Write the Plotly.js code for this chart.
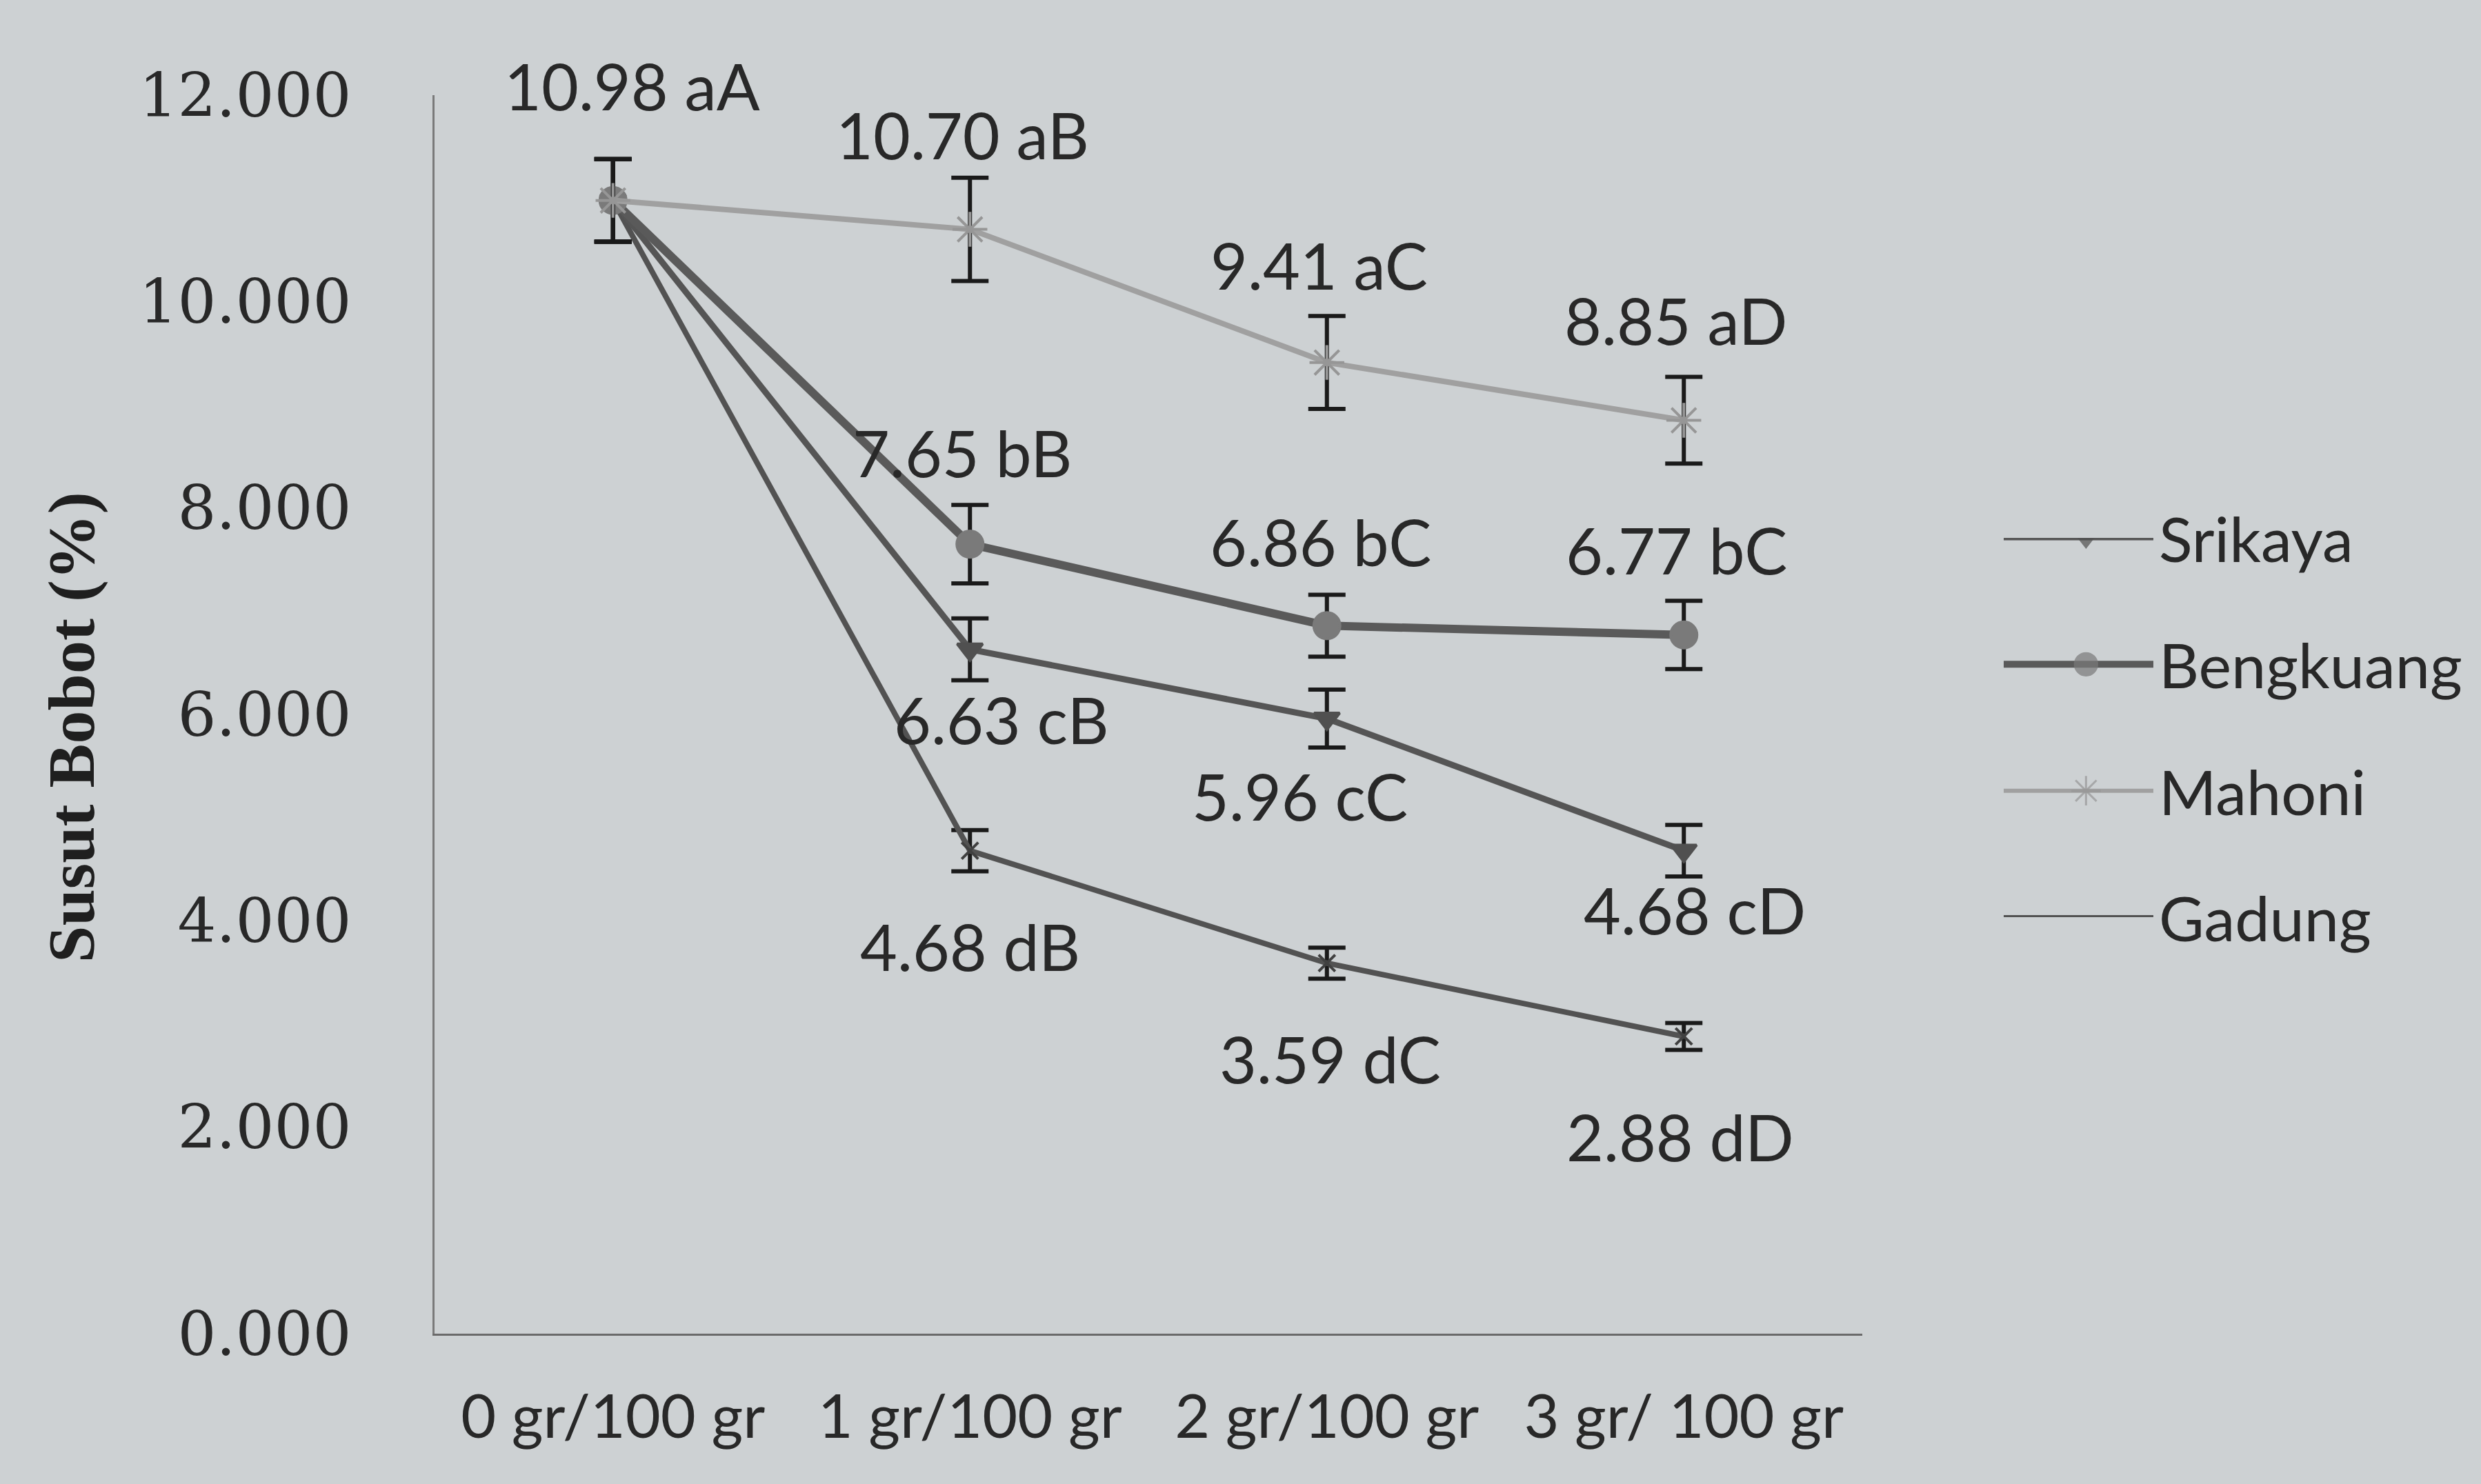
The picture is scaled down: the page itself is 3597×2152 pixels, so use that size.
<!DOCTYPE html>
<html>
<head>
<meta charset="utf-8">
<script src="https://cdn.plot.ly/plotly-3.0.1.min.js"></script>
<style>
  html, body { margin: 0; padding: 0; background: #cdd1d3; }
  #chart { width: 3597px; height: 2152px; }
</style>
</head>
<body>
<div id="chart"></div>
<script>
// ---- data ----
const categories = ['0 gr/100 gr', '1 gr/100 gr', '2 gr/100 gr', '3 gr/ 100 gr'];
const seriesNames = ['Srikaya', 'Bengkuang', 'Mahoni', 'Gadung'];

const srikaya   = [10.98, 6.63, 5.96, 4.68];
const bengkuang = [10.98, 7.65, 6.86, 6.77];
const mahoni    = [10.98, 10.70, 9.41, 8.85];
const gadung    = [10.98, 4.68, 3.59, 2.88];

const srikayaErr   = [0.40, 0.30, 0.28, 0.25];
const bengkuangErr = [0.40, 0.38, 0.30, 0.33];
const mahoniErr    = [0.40, 0.50, 0.45, 0.42];
const gadungErr    = [0.40, 0.20, 0.15, 0.13];

const srikayaLetters   = ['', 'cB', 'cC', 'cD'];
const bengkuangLetters = ['', 'bB', 'bC', 'bC'];
const mahoniLetters    = ['aA', 'aB', 'aC', 'aD'];
const gadungLetters    = ['', 'dB', 'dC', 'dD'];

const yTicks = [0, 2, 4, 6, 8, 10, 12];

// ---- styles / placement (not data) ----
const W = 3597, H = 2152;
const plotL = 630, plotR = 2700, plotT = 138, plotB = 1934;
const txt = '#282828';

const styles = {
  Srikaya:   {color: '#555555', width: 9,  symbol: 'triangle-down', msize: 32, mcolor: '#505050'},
  Bengkuang: {color: '#5a5a5a', width: 12, symbol: 'circle',        msize: 38, mcolor: '#7a7a7a'},
  Mahoni:    {color: '#a0a0a0', width: 8,  symbol: 'asterisk-open', msize: 42, mcolor: '#969696'},
  Gadung:    {color: '#525252', width: 8,  symbol: 'x-thin-open',   msize: 24, mcolor: '#404040'}
};
// label offsets in px [dx, dy(up positive)]
const labelOffsets = {
  Srikaya:   [[0,0],[46,-101],[-39,-112],[16,-85]],
  Bengkuang: [[0,0],[-11,133],[-9,122],[-11,124]],
  Mahoni:    [[28,167],[-11,138],[-11,142],[-11,145]],
  Gadung:    [[0,0],[0,-138],[5,-138],[-5,-145]]
};

const dataMap = {
  Srikaya:   {y: srikaya,   e: srikayaErr,   l: srikayaLetters},
  Bengkuang: {y: bengkuang, e: bengkuangErr, l: bengkuangLetters},
  Mahoni:    {y: mahoni,    e: mahoniErr,    l: mahoniLetters},
  Gadung:    {y: gadung,    e: gadungErr,    l: gadungLetters}
};

const drawOrder = ['Gadung', 'Srikaya', 'Bengkuang', 'Mahoni'];
const traces = [];
const annotations = [];

drawOrder.forEach(name => {
  const d = dataMap[name], s = styles[name];
  traces.push({
    type: 'scatter', mode: 'lines+markers', name: name,
    x: categories, y: d.y, xaxis: 'x', yaxis: 'y', showlegend: false,
    line: {color: s.color, width: s.width},
    marker: {symbol: s.symbol, size: s.msize, color: s.mcolor,
             line: {color: s.mcolor, width: 4}},
    error_y: {type: 'data', array: d.e, visible: true, color: '#1a1a1a',
              thickness: 6, width: 27},
    cliponaxis: false
  });
  d.l.forEach((letters, i) => {
    if (!letters) return;
    const off = labelOffsets[name][i];
    annotations.push({
      xref: 'x', yref: 'y', x: categories[i], y: d.y[i],
      text: d.y[i].toFixed(2) + ' ' + letters, showarrow: false,
      xshift: off[0], yshift: off[1],
      font: {family: 'Lato, Carlito, sans-serif', size: 93, color: txt}
    });
  });
});

// custom legend on auxiliary axes
seriesNames.forEach((name, r) => {
  const s = styles[name];
  traces.push({
    type: 'scatter', mode: 'lines+markers', xaxis: 'x2', yaxis: 'y2', showlegend: false,
    x: [0, 0.55, 1], y: [r, r, r],
    line: {color: s.color, width: Math.max(6, s.width - 2)},
    marker: {symbol: s.symbol, size: name === 'Gadung' ? [0, 0, 0] : [0, s.msize * 0.85, 0],
             color: s.mcolor, line: {color: s.mcolor, width: 3}},
    hoverinfo: 'skip'
  });
  annotations.push({
    xref: 'x2', yref: 'y2', x: 1, y: r, xanchor: 'left', yanchor: 'middle',
    xshift: 6, text: name, showarrow: false,
    font: {family: 'Lato, Carlito, sans-serif', size: 90, color: txt}
  });
});

// y axis title
annotations.push({
  xref: 'paper', yref: 'paper', x: 103 / W, y: 1 - 1055 / H,
  text: 'Susut Bobot (%)', textangle: -90, showarrow: false,
  xanchor: 'center', yanchor: 'middle',
  font: {family: 'Liberation Serif, Times New Roman, serif', size: 96, color: '#1f1f1f', weight: 'bold'}
});

const layout = {
  width: W, height: H,
  margin: {l: 0, r: 0, t: 0, b: 0, pad: 0},
  paper_bgcolor: '#cdd1d3', plot_bgcolor: 'rgba(0,0,0,0)',
  showlegend: false,
  xaxis: {
    domain: [plotL / W, plotR / W], type: 'category',
    range: [-0.5, 3.5], showgrid: false, zeroline: false,
    showline: true, linecolor: '#6a6a6a', linewidth: 3,
    ticks: '', ticklabelstandoff: 42,
    tickfont: {family: 'Lato, Carlito, sans-serif', size: 88, color: txt},
    fixedrange: true
  },
  yaxis: {
    domain: [1 - plotB / H, 1 - plotT / H],
    range: [0, 12], tickvals: yTicks, tickformat: '.3f',
    showgrid: false, zeroline: false,
    showline: true, linecolor: '#7a7a7a', linewidth: 3,
    ticks: '', ticklabelstandoff: 100,
    tickfont: {family: 'DejaVu Serif, serif', size: 88, color: txt},
    fixedrange: true
  },
  xaxis2: {
    domain: [2905 / W, 3122 / W], range: [0, 1],
    visible: false, fixedrange: true, anchor: 'y2'
  },
  yaxis2: {
    domain: [1 - 1330 / H, 1 - 780 / H], range: [3, 0],
    visible: false, fixedrange: true, anchor: 'x2'
  },
  annotations: annotations
};

Plotly.newPlot('chart', traces, layout, {displayModeBar: false, staticPlot: true});
</script>
</body>
</html>
